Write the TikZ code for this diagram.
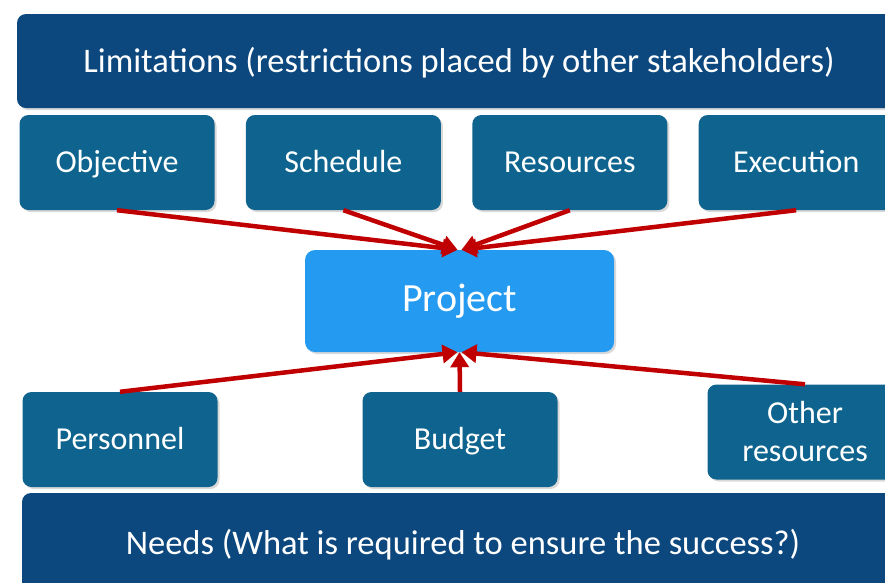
\documentclass[tikz,border=0pt]{standalone}
\usepackage{fontspec}
\setmainfont{Carlito}
\usetikzlibrary{arrows.meta, positioning, shadows}
\definecolor{bardark}{RGB}{12,72,126}
\definecolor{boxteal}{RGB}{14,100,142}
\definecolor{projblue}{RGB}{36,154,240}
\definecolor{arrred}{RGB}{192,0,0}

\begin{document}
\begin{tikzpicture}[x=1pt, y=-1pt,
  bar/.style={rectangle, rounded corners=9pt, fill=bardark, text=white,
              font=\fontsize{34.5}{40}\selectfont, inner sep=0pt,
              text height=26pt, text depth=3.8pt,
              drop shadow={shadow xshift=2pt, shadow yshift=-2pt, opacity=0.3}},
  box/.style={rectangle, rounded corners=9pt, fill=boxteal, text=white,
              minimum width=195pt, minimum height=95pt, align=center,
              font=\fontsize{32}{38}\selectfont, inner sep=0pt,
              text height=24pt, text depth=3.4pt,
              drop shadow={shadow xshift=2pt, shadow yshift=-2pt, opacity=0.3}},
  arr/.style={-{Triangle[length=15pt, width=18pt]}, line width=4.5pt, arrred}
]
\useasboundingbox (0,0) rectangle (885,582);

% limitations on top
\node[bar, minimum width=884pt, minimum height=94pt] (lim) at (459,61)
  {Limitations (restrictions placed by other stakeholders)};
\node[box] (obj) at (117,162.5) {Objective};
\node[box, right=31pt of obj] (sch) {Schedule};
\node[box, right=31pt of sch] (res) {Resources};
\node[box, right=31pt of res] (exe) {Execution};

% the project
\node[rectangle, rounded corners=10pt, fill=projblue, text=white,
      minimum width=309pt, minimum height=102pt,
      font=\fontsize{40}{46}\selectfont,
      drop shadow={shadow xshift=2pt, shadow yshift=-2pt, opacity=0.3}]
  (pj) at (459.5,301) {Project};

% needs at the bottom
\node[box] (per) at (120,439.5) {Personnel};
\node[box] (bud) at (460,439.5) {Budget};
\node[box, text height=62pt] (oth) at (805,432) {Other\\resources};
\node[bar, minimum width=882pt, minimum height=100pt] (need) at (463,543)
  {Needs (What is required to ensure the success?)};

\draw[arr] (obj.south) -- ([xshift=-2pt]pj.north);
\draw[arr] (sch.south) -- ([xshift=-2pt]pj.north);
\draw[arr] (res.south) -- ([xshift=2pt]pj.north);
\draw[arr] (exe.south) -- ([xshift=2pt]pj.north);
\draw[arr] (per.north) -- ([xshift=-2pt]pj.south);
\draw[arr] (bud.north) -- (pj.south);
\draw[arr] (oth.north) -- ([xshift=2pt]pj.south);
\end{tikzpicture}
\end{document}
